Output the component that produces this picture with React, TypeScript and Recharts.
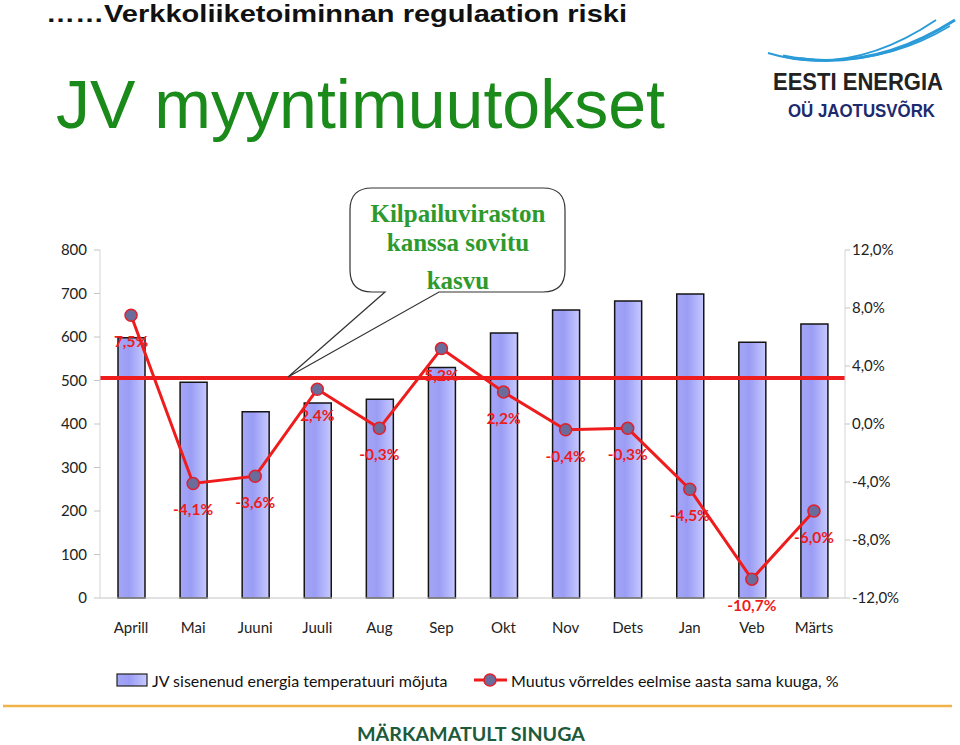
import React from 'react'
import {
  ComposedChart,
  Bar,
  Line,
  XAxis,
  YAxis,
  ReferenceLine,
  LabelList,
} from 'recharts'

const months = ['Aprill', 'Mai', 'Juuni', 'Juuli', 'Aug', 'Sep', 'Okt', 'Nov', 'Dets', 'Jan', 'Veb', 'Märts']
const energy = [598, 496, 428, 448, 457, 530, 609, 662, 683, 699, 588, 630]
const changePct = [7.5, -4.1, -3.6, 2.4, -0.3, 5.2, 2.2, -0.4, -0.3, -4.5, -10.7, -6.0]
const leftTicks = [0, 100, 200, 300, 400, 500, 600, 700, 800]
const rightTicks = [-12, -8, -4, 0, 4, 8, 12]
const agreedLevel = 506

const data = months.map((m, i) => ({ month: m, energy: energy[i], change: changePct[i] }))

const FONT = 'Lato, "Open Sans", sans-serif'
const RED = '#ee1c1c'
const fmtPct = (v: number) => v.toFixed(1).replace('.', ',') + '%'

const XTick = (props: any) => {
  const { x, y, payload } = props
  return (
    <text x={x} y={y + 21} textAnchor="middle" dominantBaseline="central" fontSize={15} fill="#222" fontFamily={FONT}>
      {payload.value}
    </text>
  )
}

const PointLabel = (props: any) => {
  const { x, y, value } = props
  return (
    <text x={x} y={y + 26} textAnchor="middle" dominantBaseline="central" fontSize={15.5} fontWeight="bold" fill={RED} fontFamily={FONT}>
      {fmtPct(value)}
    </text>
  )
}

export default function App() {
  return (
    <div style={{ position: 'absolute', left: 0, top: 0, width: 960, height: 745, background: '#fff', overflow: 'hidden' }}>
      <ComposedChart
        width={960}
        height={745}
        data={data}
        margin={{ top: 250, right: 40, bottom: 117, left: 40 }}
      >
        <defs>
          <linearGradient id="barFill" x1="0" y1="0" x2="1" y2="0">
            <stop offset="0%" stopColor="#a4a7f6" />
            <stop offset="40%" stopColor="#9a9df4" />
            <stop offset="100%" stopColor="#c6c9ff" />
          </linearGradient>
        </defs>
        <XAxis
          dataKey="month"
          tick={<XTick />}
          tickLine={false}
          axisLine={{ stroke: '#c4c4c4' }}
          height={30}
        />
        <YAxis
          yAxisId="left"
          domain={[0, 800]}
          ticks={leftTicks}
          width={60}
          tickSize={6}
          tickMargin={7}
          tick={{ fontSize: 15, fill: '#222', fontFamily: FONT }}
          tickLine={{ stroke: '#c4c4c4' }}
          axisLine={{ stroke: '#d4d4d4' }}
        />
        <YAxis
          yAxisId="right"
          orientation="right"
          domain={[-12, 12]}
          ticks={rightTicks}
          width={75}
          tickSize={5}
          tickMargin={2}
          tickFormatter={fmtPct}
          tick={{ fontSize: 15, fill: '#222', fontFamily: FONT }}
          tickLine={{ stroke: '#c4c4c4' }}
          axisLine={{ stroke: '#d4d4d4' }}
        />
        <Bar
          yAxisId="left"
          dataKey="energy"
          barSize={27}
          fill="url(#barFill)"
          stroke="#151515"
          strokeWidth={1.5}
          isAnimationActive={false}
        />
        <ReferenceLine yAxisId="left" y={agreedLevel} stroke={RED} strokeWidth={4} />
        <Line
          yAxisId="right"
          dataKey="change"
          stroke={RED}
          strokeWidth={3}
          dot={{ r: 6, fill: '#6a6d9c', stroke: '#e0202a', strokeWidth: 1.5 }}
          isAnimationActive={false}
        >
          <LabelList dataKey="change" content={<PointLabel />} />
        </Line>
      </ComposedChart>

      <svg width={960} height={745} style={{ position: 'absolute', left: 0, top: 0, pointerEvents: 'none' }}>
        <defs>
          <linearGradient id="legendFill" x1="0" y1="0" x2="1" y2="0">
            <stop offset="0%" stopColor="#a4a7f6" />
            <stop offset="40%" stopColor="#9a9df4" />
            <stop offset="100%" stopColor="#c6c9ff" />
          </linearGradient>
        </defs>
        <text x={46} y={22} fontSize={24} fontWeight="bold" fill="#111" fontFamily='"Liberation Sans", Arial, sans-serif' textLength={581} lengthAdjust="spacingAndGlyphs">
          ……Verkkoliiketoiminnan regulaation riski
        </text>
        <text x={56} y={128} fontSize={68} fill="#1a8a1a" fontFamily='"Liberation Sans", Arial, sans-serif' textLength={609} lengthAdjust="spacingAndGlyphs">
          JV myyntimuutokset
        </text>

        {/* logo */}
        <path d="M 768 53 Q 850 78 936 20" stroke="#2a9bd8" strokeWidth={2} fill="none" />
        <path d="M 783 56 Q 870 74 955 20" stroke="#2a9bd8" strokeWidth={3} fill="none" />
        <path d="M 800 58 Q 880 68 950 26" stroke="#2a9bd8" strokeWidth={1.5} fill="none" />
        <text x={773} y={90} fontSize={24} fontWeight="bold" fill="#222" fontFamily='"Liberation Sans", Arial, sans-serif' textLength={170} lengthAdjust="spacingAndGlyphs">
          EESTI ENERGIA
        </text>
        <text x={788} y={117} fontSize={18} fontWeight="bold" fill="#1c2a6e" fontFamily='"Liberation Sans", Arial, sans-serif' textLength={147} lengthAdjust="spacingAndGlyphs">
          OÜ JAOTUSVÕRK
        </text>

        {/* callout */}
        <path
          d="M 372 188 L 543 188 Q 565 188 565 210 L 565 270 Q 565 292 543 292 L 439 292 L 288 377 L 385 292 L 372 292 Q 350 292 350 270 L 350 210 Q 350 188 372 188 Z"
          fill="#fff"
          stroke="#333"
          strokeWidth={1.2}
        />
        <g fontFamily='"Liberation Serif", "Times New Roman", serif' fontWeight="bold" fontSize={25} fill="#2e9a2e" textAnchor="middle">
          <text x={458} y={222}>Kilpailuviraston</text>
          <text x={458} y={251}>kanssa sovitu</text>
          <text x={458} y={289}>kasvu</text>
        </g>

        {/* legend */}
        <rect x={117} y={674} width={30} height={12} fill="url(#legendFill)" stroke="#222" strokeWidth={1.2} />
        <text x={152} y={680} dominantBaseline="central" fontSize={16} fill="#111" fontFamily={FONT}>
          JV sisenenud energia temperatuuri mõjuta
        </text>
        <line x1={474} y1={680} x2={507} y2={680} stroke={RED} strokeWidth={3} />
        <circle cx={490} cy={680} r={6} fill="#6a6d9c" stroke="#e0202a" strokeWidth={1.5} />
        <text x={511} y={680} dominantBaseline="central" fontSize={16} fill="#111" fontFamily={FONT}>
          Muutus võrreldes eelmise aasta sama kuuga, %
        </text>

        {/* footer */}
        <line x1={3} y1={706} x2={952} y2={706} stroke="#f2b24a" strokeWidth={2.5} />
        <text x={357} y={741} fontSize={18} fontWeight="bold" fill="#1d5a3c" fontFamily={FONT} textLength={228} lengthAdjust="spacingAndGlyphs">
          MÄRKAMATULT SINUGA
        </text>
      </svg>
    </div>
  )
}
